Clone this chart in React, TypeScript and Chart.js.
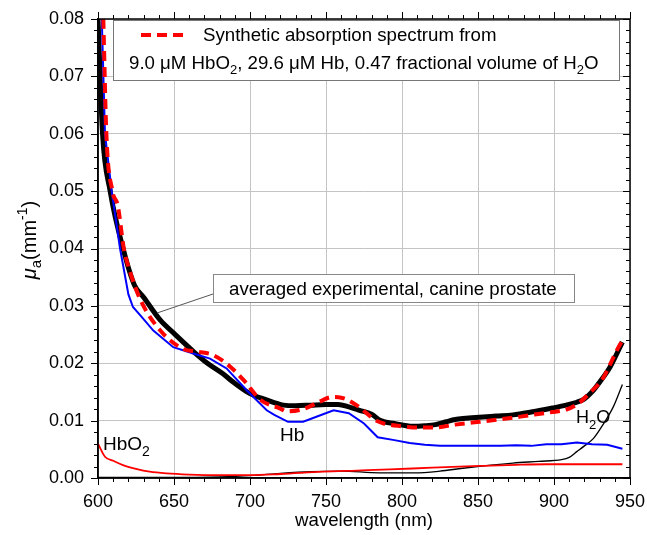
import { useEffect, useRef } from 'react';
import { Chart, registerables } from 'chart.js';
Chart.register(...registerables);

const FONT = '"Liberation Sans", Arial, sans-serif';

// Synthetic absorption spectrum (red dashed)
const synWl = [603.5, 605.5, 609.5, 613, 617, 621, 628, 641, 656, 666, 676, 687, 696, 707, 720, 724, 735, 745, 754, 760, 770, 783, 788, 800, 807, 821, 835, 851, 864, 878, 891, 904, 908, 917, 923, 932, 942, 945];
const synMu = [0.080, 0.060, 0.050, 0.0475, 0.040, 0.036, 0.031, 0.0257, 0.0225, 0.0220, 0.0214, 0.0194, 0.0170, 0.0136, 0.0121, 0.0116, 0.0120, 0.0132, 0.0141, 0.0140, 0.0127, 0.0100, 0.0095, 0.0090, 0.0088, 0.0088, 0.0093, 0.0098, 0.0102, 0.0107, 0.0112, 0.0117, 0.0119, 0.0132, 0.0147, 0.0173, 0.0226, 0.0240];

// Averaged experimental, canine prostate (black thick)
const expWl = [600, 603, 608, 617, 624, 630, 641, 650, 663, 672, 682, 690, 700, 710, 722, 730, 740, 750, 758, 765, 772, 780, 786, 795, 807, 815, 822, 829, 835, 842, 851, 862, 873, 885, 899, 908, 915, 920, 925, 930, 937, 945];
const expMu = [0.080, 0.060, 0.050, 0.0395, 0.0336, 0.0315, 0.0275, 0.0252, 0.0220, 0.0200, 0.0182, 0.0165, 0.0147, 0.0137, 0.0127, 0.0126, 0.0127, 0.0128, 0.0128, 0.0124, 0.0118, 0.0111, 0.0100, 0.0095, 0.0090, 0.0091, 0.0093, 0.0098, 0.0102, 0.0104, 0.0106, 0.0108, 0.0110, 0.0115, 0.0122, 0.0127, 0.0132, 0.0138, 0.0150, 0.0167, 0.0194, 0.0237];

// Hb (blue)
const hbWl = [602.5, 604.6, 609, 614.5, 620, 623, 628, 636.4, 649.5, 662.7, 673.7, 684.6, 697.8, 711, 716, 725, 735, 745, 755, 765, 775, 784, 795, 805, 815, 825, 850, 865, 875, 885, 895, 905, 915, 925, 935, 945];
const hbMu = [0.080, 0.060, 0.050, 0.040, 0.032, 0.0298, 0.0283, 0.0257, 0.0228, 0.0217, 0.0208, 0.0191, 0.0153, 0.0118, 0.0110, 0.0098, 0.0098, 0.0108, 0.0118, 0.0113, 0.0095, 0.0071, 0.0066, 0.0061, 0.0058, 0.0056, 0.0056, 0.0056, 0.0057, 0.0056, 0.0059, 0.0059, 0.0062, 0.0059, 0.0058, 0.0051];

// HbO2 (red thin)
const hbo2Wl = [600, 604.6, 610, 616, 625, 634, 645, 660, 680, 700, 720, 748, 770, 792, 820, 851, 875, 895, 920, 945];
const hbo2Mu = [0.0060, 0.0037, 0.0030, 0.0023, 0.0016, 0.0011, 0.0008, 0.0006, 0.0005, 0.0005, 0.0007, 0.0011, 0.0013, 0.0015, 0.0018, 0.0021, 0.0023, 0.0024, 0.0024, 0.0024];

// H2O (black thin)
const h2oWl = [600, 650, 680, 700, 720, 740, 760, 785, 808, 825, 840, 873, 890, 905, 910, 915, 920, 926, 932, 939, 945];
const h2oMu = [0.0001, 0.0001, 0.0002, 0.0004, 0.0008, 0.0011, 0.0012, 0.0009, 0.0009, 0.0012, 0.0017, 0.0026, 0.0029, 0.0032, 0.0036, 0.0046, 0.0056, 0.0069, 0.0092, 0.0124, 0.0163];

const xMin = 600, xMax = 950, xStep = 50, xMinor = 10;
const yMin = 0, yMax = 0.08, yStep = 0.01, yMinor = 0.002;

const legendLine1 = 'Synthetic absorption spectrum from';
const annotationText = 'averaged experimental, canine prostate';

const pts = (wl: number[], mu: number[]) => wl.map((x, i) => ({ x, y: mu[i] }));

type Seg = { t: string; size: number; dy?: number; italic?: boolean };

function richWidth(ctx: CanvasRenderingContext2D, segs: Seg[]) {
  let w = 0;
  for (const s of segs) {
    ctx.font = `${s.italic ? 'italic ' : ''}${s.size}px ${FONT}`;
    w += ctx.measureText(s.t).width;
  }
  return w;
}
function drawRich(ctx: CanvasRenderingContext2D, segs: Seg[], x: number, y: number) {
  let cx = x;
  for (const s of segs) {
    ctx.font = `${s.italic ? 'italic ' : ''}${s.size}px ${FONT}`;
    ctx.fillText(s.t, cx, y + (s.dy || 0));
    cx += ctx.measureText(s.t).width;
  }
}

const TXT = 18.67;

const overlay = {
  id: 'overlay',
  afterDraw(chart: any) {
    const { ctx, chartArea, scales } = chart;
    const { left, right, top, bottom } = chartArea;
    const xs = scales.x, ys = scales.y;
    ctx.save();
    // frame
    ctx.strokeStyle = '#000';
    ctx.lineWidth = 1.5;
    ctx.setLineDash([]);
    ctx.strokeRect(left, top, right - left, bottom - top);
    // ticks
    ctx.lineWidth = 1;
    ctx.beginPath();
    for (let v = xMin; v <= xMax + 1e-9; v += xMinor) {
      const px = Math.round(xs.getPixelForValue(v)) + 0.5;
      const major = Math.abs(v / xStep - Math.round(v / xStep)) < 1e-6;
      const L = major ? 7 : 4;
      ctx.moveTo(px, bottom); ctx.lineTo(px, bottom + L);
      ctx.moveTo(px, top); ctx.lineTo(px, top - L);
    }
    const n = Math.round((yMax - yMin) / yMinor);
    for (let i = 0; i <= n; i++) {
      const v = yMin + i * yMinor;
      const py = Math.round(ys.getPixelForValue(v)) + 0.5;
      const major = i % Math.round(yStep / yMinor) === 0;
      const L = major ? 7 : 4;
      ctx.moveTo(left, py); ctx.lineTo(left - L, py);
      ctx.moveTo(right, py); ctx.lineTo(right - L, py);
    }
    ctx.stroke();

    ctx.fillStyle = '#000';
    ctx.textBaseline = 'alphabetic';
    ctx.textAlign = 'left';

    // legend box
    ctx.fillStyle = '#fff';
    ctx.fillRect(113.5, 20.5, 506, 60);
    ctx.strokeStyle = '#777';
    ctx.strokeRect(113.5, 20.5, 506, 60);
    ctx.strokeStyle = '#ff0000';
    ctx.lineWidth = 4;
    ctx.setLineDash([10, 6]);
    ctx.beginPath(); ctx.moveTo(141, 35); ctx.lineTo(185, 35); ctx.stroke();
    ctx.setLineDash([]);
    ctx.fillStyle = '#000';
    drawRich(ctx, [{ t: legendLine1, size: TXT }], 203, 41);
    drawRich(ctx, [
      { t: '9.0 \u03bcM HbO', size: TXT }, { t: '2', size: 13, dy: 5 },
      { t: ', 29.6 \u03bcM Hb, 0.47 fractional volume of H', size: TXT }, { t: '2', size: 13, dy: 5 },
      { t: 'O', size: TXT },
    ], 129, 69);

    // annotation box + connector
    ctx.strokeStyle = '#555';
    ctx.lineWidth = 1;
    ctx.beginPath(); ctx.moveTo(213, 294); ctx.lineTo(157, 313); ctx.stroke();
    ctx.fillStyle = '#fff';
    ctx.fillRect(213.5, 274.5, 361, 28);
    ctx.strokeStyle = '#888';
    ctx.strokeRect(213.5, 274.5, 361, 28);
    ctx.fillStyle = '#000';
    drawRich(ctx, [{ t: annotationText, size: TXT }], 229, 295);

    // curve labels
    drawRich(ctx, [{ t: 'Hb', size: 19 }], 280, 441);
    drawRich(ctx, [{ t: 'HbO', size: 19 }, { t: '2', size: 14, dy: 6 }], 103, 450);
    drawRich(ctx, [{ t: 'H', size: 18 }, { t: '2', size: 13, dy: 6 }, { t: 'O', size: 18 }], 576, 423);

    // x title
    ctx.font = `${TXT}px ${FONT}`;
    ctx.textAlign = 'center';
    ctx.textBaseline = 'middle';
    ctx.fillText('wavelength (nm)', (left + right) / 2, 521);

    // y title
    ctx.textAlign = 'left';
    ctx.textBaseline = 'alphabetic';
    ctx.translate(36, 240);
    ctx.rotate(-Math.PI / 2);
    const ySegs: Seg[] = [
      { t: '\u03bc', size: 20, italic: true }, { t: 'a', size: 15, dy: 5 },
      { t: '(mm', size: 20 }, { t: '-1', size: 14, dy: -9 }, { t: ')', size: 20 },
    ];
    const w = richWidth(ctx, ySegs);
    drawRich(ctx, ySegs, -w / 2, 0);
    ctx.restore();
  },
};

export default function App() {
  const ref = useRef<HTMLCanvasElement | null>(null);
  useEffect(() => {
    document.body.style.margin = '0';
    const canvas = ref.current;
    if (!canvas) return;
    const chart = new Chart(canvas, {
      type: 'line',
      data: {
        datasets: [
          { data: pts(synWl, synMu), borderColor: '#ff0000', borderWidth: 4, borderDash: [10, 6], cubicInterpolationMode: 'monotone', clip: 0 } as any,
          { data: pts(hbWl, hbMu), borderColor: '#0000ff', borderWidth: 2, tension: 0, clip: 0 } as any,
          { data: pts(expWl, expMu), borderColor: '#000000', borderWidth: 5, cubicInterpolationMode: 'monotone', clip: 0 } as any,
          { data: pts(hbo2Wl, hbo2Mu), borderColor: '#ff0000', borderWidth: 1.8, cubicInterpolationMode: 'monotone', clip: 0 } as any,
          { data: pts(h2oWl, h2oMu), borderColor: '#000000', borderWidth: 1.3, cubicInterpolationMode: 'monotone', clip: 0 } as any,
        ],
      },
      options: {
        responsive: false,
        animation: false,
        devicePixelRatio: 1,
        layout: { padding: { top: 19, right: 17, left: 0, bottom: 0 } },
        elements: { point: { radius: 0 } },
        plugins: { legend: { display: false }, tooltip: { enabled: false } },
        scales: {
          x: {
            type: 'linear', min: xMin, max: xMax,
            ticks: { stepSize: xStep, color: '#000', font: { family: FONT, size: 18 }, padding: 13, maxRotation: 0 },
            grid: { color: '#c4c4c4', lineWidth: 1, drawTicks: false },
            border: { color: '#000', width: 1.5 },
            afterFit: (s: any) => { s.height = 57; s.paddingLeft = 0; s.paddingRight = 0; },
          },
          y: {
            type: 'linear', min: yMin, max: yMax,
            ticks: { stepSize: yStep, color: '#000', font: { family: FONT, size: 18 }, padding: 14, callback: (v: any) => Number(v).toFixed(2) },
            grid: { color: '#c4c4c4', lineWidth: 1, drawTicks: false },
            border: { color: '#000', width: 1.5 },
            afterFit: (s: any) => { s.width = 98; s.paddingTop = 0; s.paddingBottom = 0; },
          },
        },
      } as any,
      plugins: [overlay],
    });
    return () => chart.destroy();
  }, []);
  return <canvas ref={ref} width={647} height={535} style={{ display: 'block' }} />;
}
